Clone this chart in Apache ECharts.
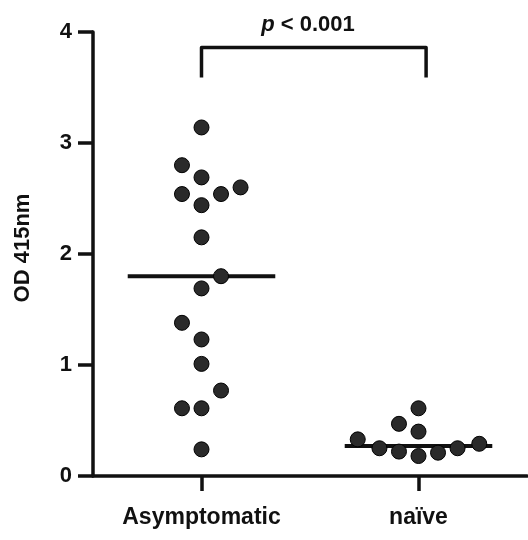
<!DOCTYPE html>
<html>
<head>
<meta charset="utf-8">
<script src="https://cdn.jsdelivr.net/npm/echarts@6/dist/echarts.min.js"></script>
<style>
  html, body { margin: 0; padding: 0; background: #fff; }
  #main { width: 528px; height: 540px; }
</style>
</head>
<body>
<div id="main"></div>
<script>
var myChart = echarts.init(document.getElementById('main'));

const groups = ['Asymptomatic', 'naïve'];
const groupPos = [1, 2];
// OD values, with the small sideways shift of each dot
const asymValues = [3.14, 2.80, 2.69, 2.60, 2.54, 2.54, 2.44, 2.15, 1.80, 1.69, 1.38, 1.23, 1.01, 0.77, 0.61, 0.61, 0.24];
const asymOffsets = [0, -0.09, 0, 0.18, -0.09, 0.09, 0, 0, 0.09, 0, -0.09, 0, 0, 0.09, -0.09, 0, 0];
const naiveValues = [0.61, 0.47, 0.40, 0.33, 0.25, 0.22, 0.18, 0.21, 0.25, 0.29];
const naiveOffsets = [0, -0.09, 0, -0.28, -0.18, -0.09, 0, 0.09, 0.18, 0.28];
const medians = [1.80, 0.27];
const medianHalf = 0.34;
// significance bracket
const bracketX = [1, 2.035];
const bracketY = [3.59, 3.86];
const pText = '{i|p} < 0.001';

const font = 'Liberation Sans, Arial, Helvetica, sans-serif';

function dots(values, offsets, center) {
    return values.map((v, i) => [center + offsets[i], v]);
}

const medianSeries = medians.map((m, i) => ({
    type: 'line',
    data: [[groupPos[i] - medianHalf, m], [groupPos[i] + medianHalf, m]],
    symbol: 'none',
    lineStyle: { color: '#111', width: 4 },
    z: 2,
    silent: true
}));

option = {
    animation: false,
    backgroundColor: '#fff',
    grid: { left: 93, right: 1, top: 32, bottom: 64 },
    xAxis: {
        type: 'value',
        min: 0.5,
        max: 2.5,
        splitLine: { show: false },
        axisLine: { onZero: false, lineStyle: { color: '#111', width: 3.5 } },
        axisTick: { customValues: groupPos, length: 15, lineStyle: { color: '#111', width: 3.5 } },
        axisLabel: {
            customValues: groupPos,
            formatter: v => groups[Math.round(v) - 1],
            margin: 30,
            color: '#111',
            fontSize: 23,
            fontWeight: 'bold',
            fontFamily: font
        }
    },
    yAxis: {
        type: 'value',
        min: 0,
        max: 4,
        interval: 1,
        name: 'OD 415nm',
        nameLocation: 'middle',
        nameGap: 59,
        nameTextStyle: { color: '#111', fontSize: 22, fontWeight: 'bold', fontFamily: font, padding: [0, 0, 0, 12] },
        splitLine: { show: false },
        axisLine: { show: true, onZero: false, lineStyle: { color: '#111', width: 3.5 } },
        axisTick: { show: true, length: 15, lineStyle: { color: '#111', width: 3.5 } },
        axisLabel: { margin: 21, color: '#111', fontSize: 22, fontWeight: 'bold', fontFamily: font }
    },
    graphic: [{
        type: 'text',
        x: 308,
        y: 25,
        style: {
            text: pText,
            rich: { i: { fontStyle: 'italic', fontWeight: 'bold', fontSize: 22, fontFamily: font, fill: '#111' } },
            fontSize: 22,
            fontWeight: 'bold',
            fontFamily: font,
            fill: '#111',
            align: 'center',
            verticalAlign: 'middle'
        }
    }],
    series: [
        {
            type: 'line',
            data: [[bracketX[0], bracketY[0]], [bracketX[0], bracketY[1]], [bracketX[1], bracketY[1]], [bracketX[1], bracketY[0]]],
            symbol: 'none',
            lineStyle: { color: '#111', width: 3.5, join: 'round' },
            silent: true
        },
        ...medianSeries,
        {
            name: groups[0],
            type: 'scatter',
            data: dots(asymValues, asymOffsets, groupPos[0]),
            symbolSize: 15,
            itemStyle: { color: '#2a2a2a', borderColor: '#000', borderWidth: 1, opacity: 1 },
            z: 3
        },
        {
            name: groups[1],
            type: 'scatter',
            data: dots(naiveValues, naiveOffsets, groupPos[1]),
            symbolSize: 15,
            itemStyle: { color: '#2a2a2a', borderColor: '#000', borderWidth: 1, opacity: 1 },
            z: 3
        }
    ]
};

myChart.setOption(option);
</script>
</body>
</html>
